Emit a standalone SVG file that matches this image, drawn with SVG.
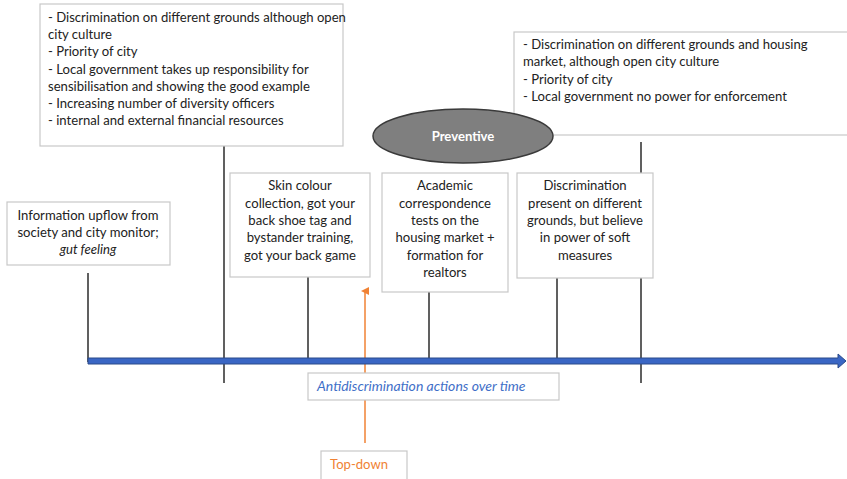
<svg xmlns="http://www.w3.org/2000/svg" width="847" height="479" viewBox="0 0 847 479">
  <style>
    .box { fill: #ffffff; stroke: #c8c8c8; stroke-width: 1.2; }
    .txt { font-family: Lato, "Liberation Sans", sans-serif; font-size: 13.1px; fill: #222222; }
    .mid { text-anchor: middle; }
    .stem { stroke: #2b2b2b; stroke-width: 1.5; fill: none; }
  </style>
  <defs>
    <marker id="orangeHead" markerWidth="8" markerHeight="8" refX="4" refY="4" orient="auto" markerUnits="userSpaceOnUse">
      <path d="M0,8 L4,0 L8,8 Z" fill="#f08234"/>
    </marker>
  </defs>
  <rect width="847" height="479" fill="#ffffff"/>

  <!-- connectors: stems from each note down to the time axis -->
  <g id="connectors">
    <line class="stem" x1="88" y1="273" x2="88" y2="362"/>
    <line class="stem" x1="224" y1="146" x2="224" y2="383"/>
    <line class="stem" x1="308" y1="277" x2="308" y2="360"/>
    <line class="stem" x1="429" y1="292" x2="429" y2="360"/>
    <line class="stem" x1="557" y1="278" x2="557" y2="360"/>
    <line class="stem" x1="641" y1="142" x2="641" y2="383"/>
    <!-- top-down pointer -->
    <line x1="365" y1="443" x2="365" y2="291" stroke="#f08234" stroke-width="1.5" marker-end="url(#orangeHead)"/>
  </g>

  <!-- time axis -->
  <g id="timeline">
    <path d="M88,358 L838,358 L838,354 L846,361 L838,368 L838,364 L88,364 Z" fill="#3a66c4" stroke="#2a4a8a" stroke-width="1"/>
  </g>

  <g id="early-context">
    <rect class="box" x="40" y="4" width="303" height="142"/>
    <text class="txt" x="48" y="22">- Discrimination on different grounds although open</text>
    <text class="txt" x="48" y="39">city culture</text>
    <text class="txt" x="48" y="56">- Priority of city</text>
    <text class="txt" x="48" y="74">- Local government takes up responsibility for</text>
    <text class="txt" x="48" y="91">sensibilisation and showing the good example</text>
    <text class="txt" x="48" y="108">- Increasing number of diversity officers</text>
    <text class="txt" x="48" y="125">- internal and external financial resources</text>
  </g>

  <g id="later-context">
    <rect class="box" x="514" y="32" width="335" height="103"/>
    <text class="txt" x="523" y="49">- Discrimination on different grounds and housing</text>
    <text class="txt" x="523" y="66">market, although open city culture</text>
    <text class="txt" x="523" y="84">- Priority of city</text>
    <text class="txt" x="523" y="101">- Local government no power for enforcement</text>
  </g>

  <g id="preventive">
    <ellipse cx="463" cy="136" rx="90" ry="27" fill="#7f7f7f" stroke="#3a3a3a" stroke-width="1.5"/>
    <text class="txt mid" x="463" y="141" style="fill:#ffffff;font-weight:bold">Preventive</text>
  </g>

  <g id="information-upflow">
    <rect class="box" x="7" y="202" width="163" height="63"/>
    <text class="txt mid" x="88" y="220">Information upflow from</text>
    <text class="txt mid" x="88" y="237">society and city monitor;</text>
    <text class="txt mid" x="88" y="254" style="font-style:italic">gut feeling</text>
  </g>

  <g id="skin-colour">
    <rect class="box" x="230" y="173" width="140" height="104"/>
    <text class="txt mid" x="300" y="190">Skin colour</text>
    <text class="txt mid" x="300" y="208">collection, got your</text>
    <text class="txt mid" x="300" y="225">back shoe tag and</text>
    <text class="txt mid" x="300" y="242">bystander training,</text>
    <text class="txt mid" x="300" y="260">got your back game</text>
  </g>

  <g id="academic-tests">
    <rect class="box" x="382" y="173" width="126" height="119"/>
    <text class="txt mid" x="445" y="190">Academic</text>
    <text class="txt mid" x="445" y="208">correspondence</text>
    <text class="txt mid" x="445" y="225">tests on the</text>
    <text class="txt mid" x="445" y="242">housing market +</text>
    <text class="txt mid" x="445" y="260">formation for</text>
    <text class="txt mid" x="445" y="277">realtors</text>
  </g>

  <g id="soft-measures">
    <rect class="box" x="517" y="173" width="136" height="105"/>
    <text class="txt mid" x="585" y="190">Discrimination</text>
    <text class="txt mid" x="585" y="208">present on different</text>
    <text class="txt mid" x="585" y="225">grounds, but believe</text>
    <text class="txt mid" x="585" y="242">in power of soft</text>
    <text class="txt mid" x="585" y="260">measures</text>
  </g>

  <g id="axis-label">
    <rect class="box" x="308" y="373" width="251" height="27"/>
    <text class="txt" x="317" y="391" style="fill:#3f6fc8;font-style:italic;font-size:14px">Antidiscrimination actions over time</text>
  </g>

  <g id="top-down">
    <rect class="box" x="321" y="451" width="86" height="32"/>
    <text class="txt" x="330" y="469" style="fill:#f08234">Top-down</text>
  </g>
</svg>
